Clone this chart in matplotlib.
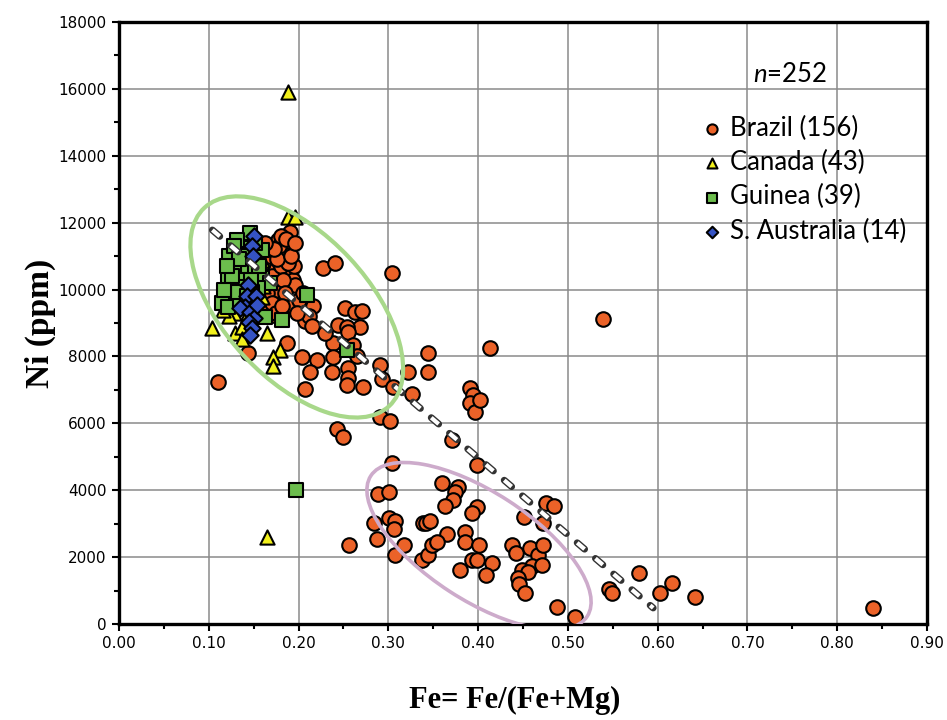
import matplotlib
matplotlib.use("Agg")
import matplotlib.pyplot as plt
from matplotlib.patches import Ellipse
from matplotlib.ticker import MultipleLocator, FormatStrFormatter
import matplotlib.transforms as mtransforms

plt.rcParams["lines.scale_dashes"] = False
plt.rcParams["mathtext.fontset"] = "custom"
plt.rcParams["mathtext.it"] = "Lato:italic"
plt.rcParams["mathtext.rm"] = "Lato"

# Fe/(Fe+Mg) vs Ni (ppm) by country
brazil_fe = [
    0.190, 0.177, 0.190, 0.172, 0.185, 0.227, 0.241, 0.304, 0.190, 0.194,
    0.196, 0.183, 0.194, 0.207, 0.216, 0.207, 0.172, 0.252, 0.263, 0.271,
    0.268, 0.244, 0.254, 0.255, 0.238, 0.261, 0.187, 0.204, 0.221, 0.238,
    0.265, 0.213, 0.237, 0.255, 0.255, 0.254, 0.272, 0.207, 0.291, 0.293,
    0.322, 0.344, 0.344, 0.305, 0.326, 0.291, 0.302, 0.243, 0.249, 0.371,
    0.391, 0.394, 0.391, 0.397, 0.413, 0.402, 0.399, 0.110, 0.144, 0.165,
    0.157, 0.304, 0.360, 0.378, 0.374, 0.372, 0.363, 0.399, 0.393, 0.288,
    0.301, 0.301, 0.307, 0.306, 0.284, 0.287, 0.256, 0.317, 0.307, 0.339,
    0.342, 0.346, 0.365, 0.385, 0.385, 0.337, 0.344, 0.349, 0.354, 0.380,
    0.393, 0.399, 0.401, 0.415, 0.409, 0.438, 0.442, 0.458, 0.467, 0.472,
    0.460, 0.471, 0.449, 0.456, 0.444, 0.445, 0.452, 0.476, 0.485, 0.451,
    0.472, 0.488, 0.508, 0.546, 0.549, 0.579, 0.539, 0.616, 0.603, 0.642,
    0.840,
    0.160, 0.170, 0.175, 0.180, 0.165, 0.155, 0.145, 0.168, 0.178, 0.183,
    0.160, 0.150, 0.170, 0.185, 0.175, 0.158, 0.148, 0.195, 0.180, 0.186,
    0.200, 0.212, 0.230, 0.188, 0.176, 0.192, 0.205, 0.166, 0.152, 0.173,
    0.182, 0.198, 0.163, 0.196, 0.215,
]
brazil_ni = [
    11720, 11480, 11240, 11120, 11030, 10640, 10790, 10490, 10490, 10290,
    10140, 9690, 9510, 9450, 9510, 9060, 9240, 9450, 9330, 9360,
    8880, 8940, 8880, 8730, 8400, 8340, 8400, 7980, 7890, 7980,
    8010, 7530, 7530, 7650, 7360, 7150, 7090, 7030, 7740, 7330,
    7530, 7530, 8100, 7090, 6880, 6190, 6070, 5830, 5590, 5500,
    7060, 6850, 6610, 6340, 8250, 6700, 4750, 7240, 8100, 10580,
    11120, 4810, 4220, 4100, 3950, 3710, 3530, 3500, 3320, 3890,
    3950, 3170, 3080, 2840, 3020, 2540, 2360, 2360, 2060, 3020,
    3020, 3080, 2690, 2750, 2450, 1910, 2060, 2360, 2450, 1610,
    1910, 1910, 2360, 1820, 1470, 2360, 2120, 2270, 2060, 2360,
    1730, 1760, 1610, 1550, 1380, 1200, 930, 3620, 3530, 3200,
    3020, 510, 210, 1050, 930, 1520, 9120, 1230, 930, 810,
    480,
    10800, 10400, 10000, 10700, 9900, 9700, 10400, 11000, 11300, 10300,
    9500, 9200, 9600, 9900, 9300, 10300, 10900, 10700, 11600, 11500,
    9700, 9200, 8700, 10800, 10900, 11000, 9900, 10200, 10000, 11200,
    9500, 9300, 11400, 11400, 8900,
]

canada_fe = [
    0.188, 0.188, 0.196, 0.104, 0.129, 0.137, 0.137, 0.165, 0.179, 0.172,
    0.172, 0.159, 0.165, 0.127, 0.159,
    0.120, 0.125, 0.130, 0.135, 0.140, 0.145, 0.150, 0.128, 0.118, 0.133,
    0.142, 0.148, 0.138, 0.124, 0.155, 0.160, 0.152, 0.122, 0.130, 0.146,
    0.136, 0.126, 0.144, 0.156, 0.116, 0.132, 0.141, 0.150,
]
canada_ni = [
    15910, 12170, 12170, 8850, 8700, 8880, 8520, 8700, 8190, 7980,
    7710, 10880, 2600, 9540, 9780,
    10000, 10500, 11000, 10200, 9800, 10700, 11200, 9300, 9700, 9600,
    10400, 10000, 11300, 10800, 10400, 10100, 9500, 9200, 10100, 11500,
    9900, 11200, 9300, 11000, 9400, 10700, 10900, 10500,
]

guinea_fe = [
    0.146, 0.139, 0.123, 0.127, 0.121, 0.135, 0.144, 0.151, 0.137, 0.149,
    0.159, 0.168, 0.155, 0.131, 0.124, 0.118, 0.129, 0.115, 0.121, 0.135,
    0.163, 0.182, 0.209, 0.254, 0.197, 0.133, 0.148, 0.159, 0.131,
    0.126, 0.140, 0.152, 0.117, 0.128, 0.143, 0.156, 0.134, 0.120, 0.147,
]
guinea_ni = [
    11690, 11240, 11000, 10670, 10380, 10520, 10580, 10520, 10290, 10200,
    10350, 10200, 10050, 10080, 9900, 9750, 9750, 9600, 9480, 9690,
    9180, 9090, 9840, 8190, 4010, 9930, 9930, 11180, 11480,
    10400, 11000, 11400, 10000, 11300, 9800, 10700, 10900, 10700, 10300,
]

saus_fe = [0.150, 0.148, 0.149, 0.144, 0.143, 0.153, 0.140, 0.135, 0.146,
           0.150, 0.145, 0.148, 0.146, 0.154]
saus_ni = [11600, 11300, 11000, 10140, 9810, 9810, 9480, 9450, 9330,
           9150, 9030, 8850, 8640, 9540]

series_labels = ["Brazil (156)", "Canada (43)", "Guinea (39)", "S. Australia (14)"]

# reduced major trend line end points
trend_fe = [0.104, 0.595]
trend_ni = [11780, 480]

fig = plt.figure(figsize=(9.47, 7.2), dpi=100)
ax = fig.add_axes([119 / 947, 96 / 720, 808 / 947, 602 / 720])

ax.set_xlim(0, 0.9)
ax.set_ylim(0, 18000)
ax.xaxis.set_major_locator(MultipleLocator(0.1))
ax.xaxis.set_minor_locator(MultipleLocator(0.05))
ax.yaxis.set_major_locator(MultipleLocator(2000))
ax.yaxis.set_minor_locator(MultipleLocator(1000))
ax.xaxis.set_major_formatter(FormatStrFormatter("%.2f"))
ax.grid(True, which="major", color="#8a8a8a", linewidth=1.1, zorder=0)
ax.set_axisbelow(True)
for sp in ax.spines.values():
    sp.set_linewidth(2.4)
ax.tick_params(which="major", direction="out", length=5, width=1.5,
               labelsize=11, pad=4)
ax.tick_params(which="minor", direction="out", length=3.5, width=1.5)

mk = dict(edgecolors="black", linewidths=1.5, zorder=3)
h1 = ax.scatter(brazil_fe, brazil_ni, s=110, marker="o", c="#eb6228", **mk)
h2 = ax.scatter(canada_fe, canada_ni, s=105, marker="^", c="#f2f01c", **mk)
h3 = ax.scatter(guinea_fe, guinea_ni, s=100, marker="s", c="#6cbd4d", **mk)
h4 = ax.scatter(saus_fe, saus_ni, s=70, marker="D", c="#3553c4", **mk)

# outlined dashed trend line
ax.plot(trend_fe, trend_ni, color="#333333", lw=5.0, dashes=(7.0, 10.3),
        solid_capstyle="round", dash_capstyle="round", zorder=4)
ax.plot(trend_fe, trend_ni, color="white", lw=3.0, dashes=(7.0, 10.3),
        dash_capstyle="butt", zorder=5)

# group outlines (sizes in inches, placed at data centres)
def ring(center, w, h, angle, color, lw):
    tr = fig.dpi_scale_trans + mtransforms.ScaledTranslation(
        center[0], center[1], ax.transData)
    e = Ellipse((0, 0), w, h, angle=angle, fill=False, edgecolor=color,
                linewidth=lw, transform=tr, zorder=6)
    ax.add_patch(e)

ring((0.198, 9480), 2.71, 1.44, -47, "#a8d88a", 3.0)
ring((0.401, 2330), 2.58, 1.08, -33, "#cdabcb", 2.6)

leg = ax.legend([h1, h2, h3, h4], series_labels, loc="upper left",
                bbox_to_anchor=(0.719, 0.844), frameon=False, borderpad=0,
                borderaxespad=0, handlelength=0.9, handletextpad=0.25,
                labelspacing=0.354, markerscale=0.7,
                prop={"family": "Lato", "size": 18.5})
ax.text(0.83, 0.912, r"$\mathit{n}$=252", transform=ax.transAxes,
        ha="center", va="center", fontsize=18.5, family="Lato")

ax.set_ylabel("Ni (ppm)", family="Liberation Serif", weight="bold", fontsize=24)
ax.yaxis.set_label_coords(-0.097, 0.5)
ax.set_xlabel("Fe= Fe/(Fe+Mg)", family="Liberation Serif", weight="bold",
              fontsize=22)
ax.xaxis.set_label_coords(0.49, -0.127)
ax.xaxis.label.set_va("center")
ax.yaxis.label.set_va("center")

fig.savefig("out.png", dpi=100)
